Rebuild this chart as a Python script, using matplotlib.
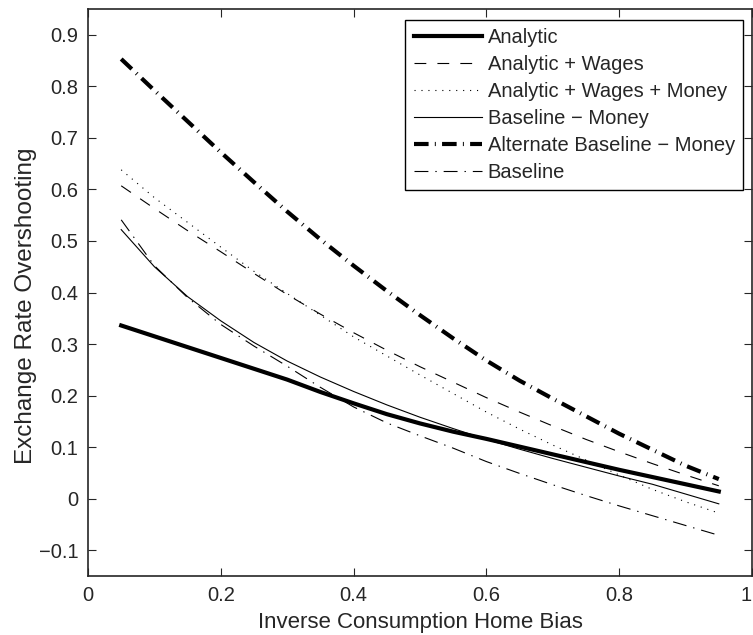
import matplotlib
matplotlib.use("Agg")
import matplotlib.pyplot as plt

plt.rcParams['font.family'] = ['Liberation Sans', 'DejaVu Sans']
plt.rcParams['lines.scale_dashes'] = False

x = [0.05, 0.10, 0.15, 0.20, 0.25, 0.30, 0.35, 0.40, 0.45, 0.50,
     0.55, 0.60, 0.65, 0.70, 0.75, 0.80, 0.85, 0.90, 0.95]

analytic = [0.336, 0.315, 0.294, 0.273, 0.252, 0.231, 0.207, 0.185, 0.164, 0.146,
            0.130, 0.116, 0.101, 0.086, 0.071, 0.056, 0.042, 0.028, 0.014]
analytic_wages = [0.607, 0.563, 0.520, 0.479, 0.437, 0.396, 0.358, 0.322, 0.288, 0.256,
                  0.226, 0.196, 0.168, 0.141, 0.115, 0.091, 0.068, 0.046, 0.025]
analytic_wages_money = [0.638, 0.584, 0.536, 0.488, 0.441, 0.398, 0.356, 0.314, 0.277, 0.240,
                        0.204, 0.168, 0.135, 0.104, 0.075, 0.046, 0.018, -0.006, -0.028]
baseline_money = [0.522, 0.450, 0.392, 0.345, 0.303, 0.267, 0.236, 0.208, 0.182, 0.158,
                  0.136, 0.115, 0.096, 0.078, 0.061, 0.044, 0.028, 0.009, -0.010]
alt_baseline_money = [0.853, 0.792, 0.732, 0.672, 0.614, 0.557, 0.503, 0.452, 0.403, 0.356,
                      0.311, 0.268, 0.229, 0.194, 0.160, 0.126, 0.095, 0.064, 0.038]
baseline = [0.541, 0.452, 0.390, 0.338, 0.296, 0.257, 0.216, 0.178, 0.147, 0.122,
            0.098, 0.072, 0.049, 0.027, 0.006, -0.014, -0.033, -0.052, -0.071]

labels = ['Analytic', 'Analytic + Wages', 'Analytic + Wages + Money',
          'Baseline \u2212 Money', 'Alternate Baseline \u2212 Money', 'Baseline']

xticks = [0, 0.2, 0.4, 0.6, 0.8, 1]
xticklabels = ['0', '0.2', '0.4', '0.6', '0.8', '1']
yticks = [-0.1, 0, 0.1, 0.2, 0.3, 0.4, 0.5, 0.6, 0.7, 0.8, 0.9]
yticklabels = ['\u22120.1', '0', '0.1', '0.2', '0.3', '0.4', '0.5', '0.6', '0.7', '0.8', '0.9']

fig = plt.figure(figsize=(7.53, 6.35), dpi=100)
ax = fig.add_axes([88/753, 59/635, 664/753, 567/635])

ax.plot(x, analytic, color='black', lw=3.0, linestyle='-', label=labels[0])
ax.plot(x, analytic_wages, color='black', lw=0.8, linestyle=(0, (8.5, 8.0)), label=labels[1])
ax.plot(x, analytic_wages_money, color='black', lw=0.8, linestyle=(0, (0.8, 4.2)), label=labels[2])
ax.plot(x, baseline_money, color='black', lw=0.8, linestyle='-', label=labels[3])
ax.plot(x, alt_baseline_money, color='black', lw=3.0, linestyle=(0, (10.5, 4.5, 0.7, 4.5)), label=labels[4])
ax.plot(x, baseline, color='black', lw=0.8, linestyle=(0, (10.0, 5.0, 1.0, 5.0)), label=labels[5])

ax.set_xlim(0, 1)
ax.set_ylim(-0.15, 0.95)
ax.set_xticks(xticks)
ax.set_xticklabels(xticklabels)
ax.set_yticks(yticks)
ax.set_yticklabels(yticklabels)
ax.tick_params(direction='in', length=6, width=0.8, top=True, right=True,
               labelsize=14.5, pad=7, colors='#262626', labelcolor='#262626')
ax.get_xticklabels()[-1].set_horizontalalignment('right')
for s in ax.spines.values():
    s.set_linewidth(1.2)
    s.set_color('#262626')

ax.set_xlabel('Inverse Consumption Home Bias', fontsize=16, color='#262626', labelpad=5.5)
ax.set_ylabel('Exchange Rate Overshooting', fontsize=17.5, color='#262626')
ax.yaxis.set_label_coords(-0.077, 0.476)

leg = ax.legend(loc='upper right', bbox_to_anchor=(0.9864, 0.9806), borderaxespad=0,
                fontsize=14.5, frameon=True, fancybox=False,
                edgecolor='black', framealpha=1, borderpad=0.4, labelspacing=0.4,
                handlelength=3.4, handletextpad=0.28)
leg.get_frame().set_linewidth(1.0)
for t in leg.get_texts():
    t.set_color('#262626')

fig.savefig('out.png', dpi=100)
